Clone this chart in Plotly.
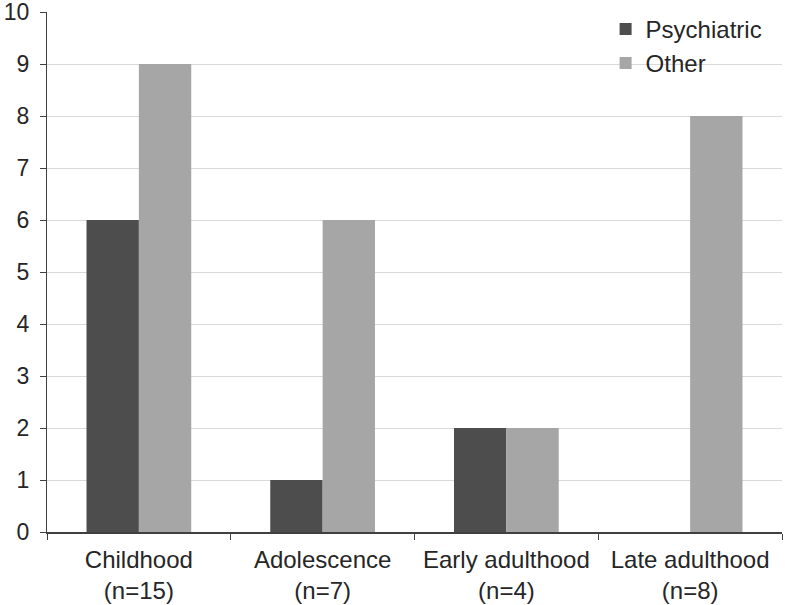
import plotly.graph_objects as go

categories = ["Childhood<br>(n=15)", "Adolescence<br>(n=7)", "Early adulthood<br>(n=4)", "Late adulthood<br>(n=8)"]
psychiatric = [6, 1, 2, 0]
other = [9, 6, 2, 8]
y_ticks = [0, 1, 2, 3, 4, 5, 6, 7, 8, 9, 10]

fig = go.Figure()
fig.add_trace(go.Bar(name="Psychiatric", x=categories, y=psychiatric,
                     marker=dict(color="#4d4d4d", line=dict(width=0))))
fig.add_trace(go.Bar(name="Other", x=categories, y=other,
                     marker=dict(color="#a6a6a6", line=dict(width=0))))

fig.update_layout(
    width=785, height=605,
    margin=dict(l=47, r=3, t=12, b=73, autoexpand=False),
    paper_bgcolor="white", plot_bgcolor="white",
    barmode="group", bargap=0.43, bargroupgap=0,
    font=dict(family="Liberation Sans, Arial, sans-serif", size=23, color="#262626"),
    showlegend=True,
    legend=dict(x=0.76, y=1.01, xanchor="left", yanchor="top",
                bgcolor="rgba(255,255,255,0)", font=dict(size=24),
                itemwidth=30, tracegroupgap=0),
)
fig.update_yaxes(range=[0, 10], tickvals=y_ticks, showgrid=True, gridcolor="#d9d9d9",
                 gridwidth=1, showline=True, linecolor="#404040", linewidth=1,
                 ticks="outside", ticklen=6, tickcolor="#404040", zeroline=False,
                 ticklabelstandoff=6, automargin=False, ticklabeloverflow="allow")
fig.update_xaxes(showline=True, linecolor="#404040", linewidth=1.5,
                 ticks="outside", ticklen=6, tickcolor="#404040", tickson="boundaries",
                 showgrid=False, automargin=False, tickfont=dict(size=24),
                 ticklabelstandoff=5, ticklabeloverflow="allow")

fig.write_html("out.html", config={"displayModeBar": False},
               post_script="document.body.style.margin='0';document.body.style.overflow='hidden';")
